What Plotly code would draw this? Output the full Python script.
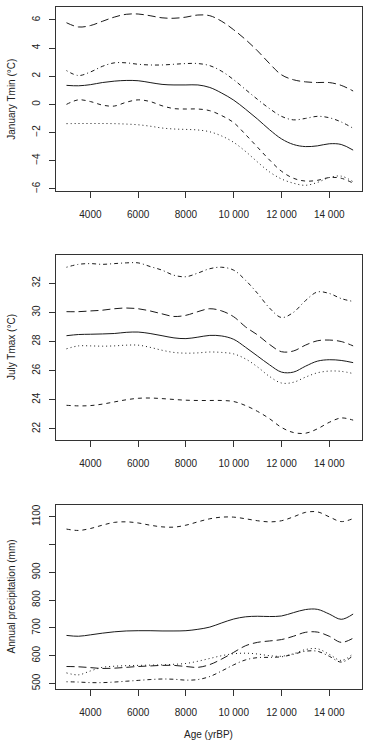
import plotly.graph_objects as go

# ---------------- data ----------------
ages = [3000, 3500, 4000, 4500, 5000, 5500, 6000, 6500, 7000, 7500, 8000, 8500,
        9000, 9500, 10000, 10500, 11000, 11500, 12000, 12500, 13000, 13500,
        14000, 14500, 15000]

# January Tmin (°C)
jan_longdash = [5.8, 5.5, 5.6, 5.9, 6.2, 6.4, 6.42, 6.3, 6.15, 6.12, 6.2, 6.35,
                6.3, 5.9, 5.3, 4.6, 3.8, 2.9, 2.1, 1.75, 1.6, 1.55, 1.55, 1.35, 0.95]
jan_dotdash = [2.4, 2.05, 2.3, 2.7, 2.95, 2.95, 2.85, 2.8, 2.8, 2.85, 2.9, 2.9,
               2.75, 2.35, 1.75, 1.05, 0.35, -0.3, -0.85, -1.1, -1.0, -0.85, -0.95, -1.25, -1.7]
jan_solid = [1.35, 1.32, 1.4, 1.55, 1.65, 1.7, 1.68, 1.55, 1.42, 1.38, 1.38, 1.38,
             1.2, 0.8, 0.3, -0.35, -1.05, -1.8, -2.45, -2.85, -3.0, -2.95, -2.8, -2.85, -3.25]
jan_dashed = [0.0, 0.32, 0.2, -0.05, -0.12, 0.15, 0.32, 0.2, -0.1, -0.3, -0.33, -0.33,
              -0.45, -0.8, -1.3, -2.15, -3.05, -3.95, -4.75, -5.25, -5.45, -5.4, -5.2, -5.25, -5.6]
jan_dotted = [-1.37, -1.36, -1.36, -1.36, -1.37, -1.4, -1.45, -1.55, -1.68, -1.75, -1.78, -1.82,
              -1.95, -2.25, -2.7, -3.35, -4.1, -4.8, -5.3, -5.6, -5.75, -5.55, -5.2, -5.1, -5.5]

# July Tmax (°C)
jul_dotdash = [33.1, 33.3, 33.35, 33.3, 33.35, 33.4, 33.4, 33.15, 32.9, 32.55, 32.45, 32.7,
               33.0, 33.1, 32.9, 32.2, 31.3, 30.3, 29.65, 30.0, 30.8, 31.4, 31.3, 30.95, 30.75]
jul_longdash = [30.05, 30.05, 30.1, 30.15, 30.25, 30.3, 30.25, 30.1, 29.9, 29.72, 29.8, 30.05,
                30.25, 30.1, 29.7, 29.0, 28.45, 27.8, 27.3, 27.35, 27.75, 28.05, 28.1, 28.0, 27.7]
jul_solid = [28.4, 28.48, 28.5, 28.52, 28.55, 28.63, 28.65, 28.55, 28.4, 28.25, 28.2, 28.3,
             28.42, 28.38, 28.15, 27.6, 27.0, 26.4, 25.9, 25.9, 26.3, 26.65, 26.75, 26.7, 26.55]
jul_dotted = [27.5, 27.7, 27.7, 27.68, 27.7, 27.75, 27.75, 27.6, 27.4, 27.25, 27.2, 27.22,
              27.28, 27.25, 27.15, 26.8, 26.25, 25.6, 25.15, 25.2, 25.55, 25.85, 25.97, 25.95, 25.8]
jul_dashed = [23.62, 23.58, 23.6, 23.7, 23.85, 24.0, 24.1, 24.12, 24.08, 24.02, 23.97, 23.95,
              23.95, 23.95, 23.88, 23.6, 23.2, 22.7, 22.1, 21.75, 21.7, 22.0, 22.45, 22.75, 22.6]

# Annual precipitation (mm)
pre_dashed = [1056, 1051, 1058, 1070, 1080, 1082, 1078, 1070, 1064, 1063, 1070, 1082,
              1093, 1099, 1099, 1093, 1086, 1082, 1086, 1100, 1116, 1118, 1100, 1083, 1094]
pre_solid = [673, 670, 675, 681, 686, 689, 690, 690, 689, 689, 690, 695,
             703, 718, 732, 740, 742, 741, 743, 755, 766, 767, 750, 731, 750]
pre_longdash = [561, 560, 557, 554, 555, 558, 561, 563, 565, 565, 561, 558,
                568, 588, 612, 636, 648, 653, 658, 670, 684, 685, 670, 648, 663]
pre_dotted = [538, 531, 545, 558, 562, 564, 565, 566, 567, 569, 572, 580,
              590, 600, 607, 609, 606, 600, 598, 607, 622, 625, 605, 583, 607]
pre_dotdash = [506, 505, 503, 503, 505, 508, 511, 514, 516, 515, 512, 514,
               525, 545, 567, 585, 593, 594, 596, 605, 616, 616, 598, 577, 600]

x_tickvals = [4000, 6000, 8000, 10000, 12000, 14000]
x_ticktext = ["4000", "6000", "8000", "10 000", "12 000", "14 000"]
jan_ticks = [-6, -4, -2, 0, 2, 4, 6]
jul_ticks = [22, 24, 26, 28, 30, 32]
pre_tickvals = [500, 600, 700, 800, 900, 1000, 1100]
pre_ticktext = ["500", "600", "700", "800", "900", "", "1100"]

y_titles = ["January Tmin (°C)", "July Tmax (°C)", "Annual precipitation (mm)"]
x_title = "Age (yrBP)"

# ---------------- styles ----------------
W, H = 367, 742
FONT = "Liberation Sans, Arial, sans-serif"
TXT = "#222222"
LINE = "#1a1a1a"
DASH = {
    "solid": "solid",
    "dashed": "4px,4px",
    "longdash": "8px,4px",
    "dotted": "1px,3px",
    "dotdash": "1px,3px,4px,3px",
}

x_left, x_right = 55.5, 361.5
panels_px = [(7, 192), (256, 441), (506, 691)]
y_ranges = [[-6.19, 6.92], [21.25, 33.92], [479.5, 1144]]
x_range = [2540, 15350]

fig = go.Figure()

series = [
    [(jan_longdash, "longdash"), (jan_dotdash, "dotdash"), (jan_solid, "solid"),
     (jan_dashed, "dashed"), (jan_dotted, "dotted")],
    [(jul_dotdash, "dotdash"), (jul_longdash, "longdash"), (jul_solid, "solid"),
     (jul_dotted, "dotted"), (jul_dashed, "dashed")],
    [(pre_dashed, "dashed"), (pre_solid, "solid"), (pre_longdash, "longdash"),
     (pre_dotted, "dotted"), (pre_dotdash, "dotdash")],
]

for i, group in enumerate(series):
    xa = "x" if i == 0 else f"x{i+1}"
    ya = "y" if i == 0 else f"y{i+1}"
    for vals, sty in group:
        fig.add_trace(go.Scatter(
            x=ages, y=vals, mode="lines", xaxis=xa, yaxis=ya,
            line=dict(color=LINE, width=1, dash=DASH[sty], shape="spline", smoothing=1.0),
            showlegend=False, hoverinfo="skip",
        ))

axis_common = dict(
    showline=True, mirror=True, linecolor="#333333", linewidth=1,
    ticks="outside", ticklen=6, tickwidth=1, tickcolor="#333333",
    showgrid=False, zeroline=False,
    tickfont=dict(family=FONT, size=10, color=TXT),
)

layout = dict(
    width=W, height=H,
    margin=dict(l=0, r=0, t=0, b=0),
    paper_bgcolor="white", plot_bgcolor="white",
    showlegend=False,
)

yticks = [
    dict(tickvals=jan_ticks),
    dict(tickvals=jul_ticks),
    dict(tickvals=pre_tickvals, ticktext=pre_ticktext),
]

annotations = []
for i, (top, bot) in enumerate(panels_px):
    sfx = "" if i == 0 else str(i + 1)
    dom_y = [1 - bot / H, 1 - top / H]
    layout["xaxis" + sfx] = dict(
        axis_common, domain=[x_left / W, x_right / W], range=x_range,
        tickvals=x_tickvals, ticktext=x_ticktext, tickangle=0,
        ticklabelstandoff=8, anchor="y" + sfx,
    )
    layout["yaxis" + sfx] = dict(
        axis_common, domain=dom_y, range=y_ranges[i], tickangle=-90,
        ticklabelstandoff=5, anchor="x" + sfx, **yticks[i],
    )
    annotations.append(dict(
        text=y_titles[i], xref="paper", yref="paper",
        x=11.5 / W, y=1 - (top + bot) / 2 / H, textangle=-90,
        showarrow=False, xanchor="center", yanchor="middle",
        font=dict(family=FONT, size=10, color=TXT),
    ))

annotations.append(dict(
    text=x_title, xref="paper", yref="paper",
    x=(x_left + x_right) / 2 / W, y=1 - 736 / H,
    showarrow=False, xanchor="center", yanchor="middle",
    font=dict(family=FONT, size=10, color=TXT),
))
layout["annotations"] = annotations

fig.update_layout(**layout)
fig.write_html("out.html")
